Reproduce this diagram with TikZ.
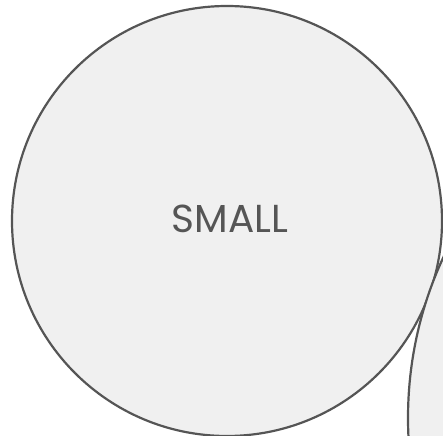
\documentclass[tikz,border=0pt]{standalone}
\usepackage{fontspec}
\setmainfont{Poppins}
\definecolor{bubblefill}{HTML}{F0F0F0}
\definecolor{bubbleline}{HTML}{555555}
\tikzset{
  bubble/.style={circle, draw=bubbleline, fill=bubblefill, line width=2.2pt, inner sep=0pt, text=bubbleline},
  bubblelabel/.style={font=\fontsize{39}{45}\selectfont}
}
\begin{document}
\begin{tikzpicture}[x=1pt,y=-1pt]
\useasboundingbox (0,0) rectangle (443,435);
\clip (0,0) rectangle (443,435);
\node[bubble, minimum size=430pt] (small) at (227,221) {};
\node[bubble, minimum size=764pt] (other) at (790,418) {};
\node[bubblelabel, text=bubbleline] (lbl) at (230,219) {SMALL};
\end{tikzpicture}
\end{document}
